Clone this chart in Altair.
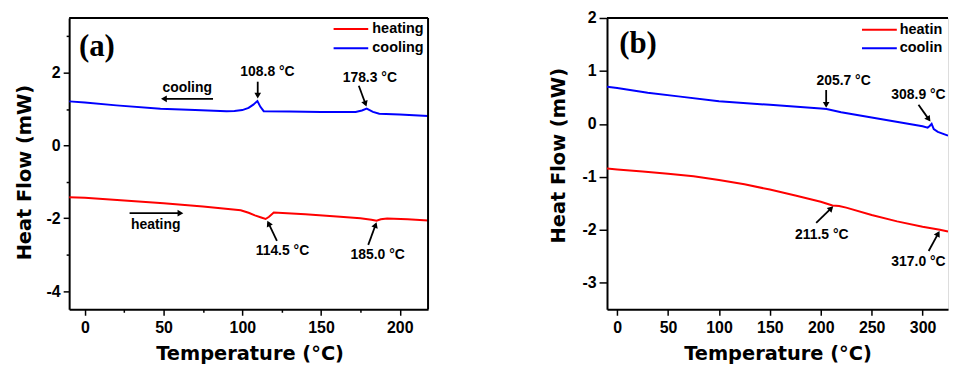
import math
import altair as alt
import pandas as pd

# ---------------- data: panel (a) ----------------
a_heat_T = [-10, 0, 25, 50, 75, 99, 104, 108, 112, 114.8, 117, 120, 140, 160, 175, 182, 185.3, 188, 192, 205, 218]
a_heat_v = [-1.42, -1.44, -1.51, -1.59, -1.68, -1.78, -1.85, -1.92, -1.98, -2.02, -1.96, -1.84, -1.89, -1.95, -2.00, -2.04, -2.07, -2.03, -2.01, -2.03, -2.06]
a_cool_T = [-10, 0, 20, 48, 70, 90, 95, 100, 104, 107, 109.6, 111.5, 113.6, 130, 150, 172, 176, 179, 183, 187, 200, 218]
a_cool_v = [1.21, 1.18, 1.10, 1.01, 0.97, 0.94, 0.945, 0.97, 1.03, 1.12, 1.22, 1.06, 0.94, 0.93, 0.92, 0.92, 0.96, 1.01, 0.92, 0.87, 0.85, 0.81]

a_note_text = ["108.8 °C", "178.3 °C", "114.5 °C", "185.0 °C", "cooling", "heating"]
a_note_T = [116, 181, 125.5, 186, 65, 45]
a_note_v = [2.02, 1.86, -2.90, -3.0, 1.58, -2.18]

a_arrow_x1 = [109.8, 174, 122, 180, 81.4, 28.4]
a_arrow_y1 = [1.75, 1.64, -2.62, -2.73, 1.28, -1.86]
a_arrow_x2 = [109.8, 178.8, 116, 185.2, 48.6, 62.3]
a_arrow_y2 = [1.30, 1.08, -2.08, -2.12, 1.28, -1.86]

# ---------------- data: panel (b) ----------------
b_heat_T = [-10, 0, 25, 50, 75, 100, 125, 150, 175, 200, 211.5, 218, 225, 250, 275, 300, 317, 325]
b_heat_v = [-0.84, -0.86, -0.90, -0.94, -0.99, -1.06, -1.14, -1.24, -1.35, -1.47, -1.54, -1.55, -1.58, -1.72, -1.84, -1.94, -2.00, -2.03]
b_cool_T = [-10, 0, 30, 60, 100, 150, 200, 205.7, 220, 250, 280, 300, 305, 307, 308.9, 311, 315, 325]
b_cool_v = [0.70, 0.68, 0.59, 0.52, 0.43, 0.36, 0.29, 0.28, 0.22, 0.12, 0.02, -0.045, -0.07, -0.04, 0.0, -0.10, -0.15, -0.22]

b_note_text = ["205.7 °C", "308.9 °C", "211.5 °C", "317.0 °C"]
b_note_T = [222.4, 296, 201, 296]
b_note_v = [0.81, 0.55, -2.09, -2.60]

b_arrow_x1 = [205.3, 296, 195.5, 306]
b_arrow_y1 = [0.64, 0.36, -1.87, -2.40]
b_arrow_x2 = [205.3, 307.5, 212, 316.5]
b_arrow_y2 = [0.31, 0.05, -1.56, -2.03]

series_names = ["heating", "cooling"]
series_colors = ["#ff0000", "#0000ff"]

FONT = "Liberation Sans"
TFONT = "DejaVu Sans"
H = 293


def make_panel(heat_T, heat_v, cool_T, cool_v, note_text, note_T, note_v,
               ax1, ay1, ax2, ay2, xdom, ydom, W, xticks, yticks, ylab_mod,
               tag, tag_T, tag_v, leg_T1, leg_T2, leg_Tt, leg_v, right_border,
               ytick_major, ytick_minor, title_x_offset, y_title_pad, y_title_y, leg_limit):
    sx = W / (xdom[1] - xdom[0])
    sy = H / (ydom[1] - ydom[0])

    curves = pd.concat([
        pd.DataFrame({"T": heat_T, "v": heat_v, "series": "heating"}),
        pd.DataFrame({"T": cool_T, "v": cool_v, "series": "cooling"}),
    ])

    x_axis = alt.Axis(
        values=xticks, title="Temperature (°C)",
        labelExpr="datum.value % 50 == 0 ? '' + datum.value : ''",
        tickSize={"condition": {"test": "datum.value % 50 == 0", "value": 6}, "value": 3},
        labelFontSize=16, labelFont=FONT, labelFontWeight="bold", labelColor="black",
        labelPadding=4, labelOverlap=False, labelFlush=False,
        titleFontSize=19.5, titleFont=TFONT, titleFontWeight="bold", titleColor="black",
        titlePadding=10, titleX=W / 2 + title_x_offset,
        domainColor="black", domainWidth=2, tickColor="black", tickWidth=1.5, grid=False,
    )
    y_axis = alt.Axis(
        values=yticks, title="Heat Flow (mW)",
        labelExpr=f"datum.value % {ylab_mod} == 0 ? '' + datum.value : ''",
        tickSize={"condition": {"test": f"datum.value % {ylab_mod} == 0", "value": ytick_major}, "value": ytick_minor},
        labelFontSize=16, labelFont=FONT, labelFontWeight="bold", labelColor="black",
        labelPadding=3, labelOverlap=False, labelFlush=False,
        titleFontSize=19.5, titleFont=TFONT, titleFontWeight="bold", titleColor="black",
        titlePadding=y_title_pad, titleY=y_title_y,
        domainColor="black", domainWidth=2, tickColor="black", tickWidth=1.5, grid=False,
    )
    xs = alt.Scale(domain=xdom, nice=False, zero=False)
    ys = alt.Scale(domain=ydom, nice=False, zero=False)
    color = alt.Color("series:N", scale=alt.Scale(domain=series_names, range=series_colors), legend=None)

    lines = alt.Chart(curves).mark_line(strokeWidth=2, clip=True).encode(
        x=alt.X("T:Q", scale=xs, axis=x_axis),
        y=alt.Y("v:Q", scale=ys, axis=y_axis),
        color=color,
        order=alt.Order("T:Q"),
    )

    notes = alt.Chart(pd.DataFrame({"T": note_T, "v": note_v, "t": note_text})).mark_text(
        font=FONT, fontWeight="bold", fontSize=14, color="black", align="center", baseline="middle", clip=True
    ).encode(x="T:Q", y="v:Q", text="t:N")

    # arrows
    rows = []
    L = 3.5
    for x1, y1, x2, y2 in zip(ax1, ay1, ax2, ay2):
        dxp = (x2 - x1) * sx
        dyp = -(y2 - y1) * sy
        n = math.hypot(dxp, dyp)
        ux, uy = dxp / n, dyp / n
        ang = math.degrees(math.atan2(dxp, -dyp)) % 360
        hx = x2 - ux * L / sx
        hy = y2 + uy * L / sy
        rows.append({"x1": x1, "y1": y1, "x2": x2 - ux * 2 / sx, "y2": y2 + uy * 2 / sy,
                     "hx": hx, "hy": hy, "ang": ang})
    adf = pd.DataFrame(rows)
    shafts = alt.Chart(adf).mark_rule(color="black", strokeWidth=1.8).encode(
        x="x1:Q", y="y1:Q", x2="x2:Q", y2="y2:Q")
    heads = alt.Chart(adf).mark_point(shape="triangle", filled=True, size=45, color="black",
                                      opacity=1, strokeWidth=0).encode(
        x="hx:Q", y="hy:Q", angle=alt.Angle("ang:Q", scale=None))

    tagc = alt.Chart(pd.DataFrame({"T": [tag_T], "v": [tag_v], "t": [tag]})).mark_text(
        font="Liberation Serif", fontWeight="bold", fontSize=31, color="black",
        align="left", baseline="middle").encode(x="T:Q", y="v:Q", text="t:N")

    leg = pd.DataFrame({"x1": [leg_T1, leg_T1], "x2": [leg_T2, leg_T2], "xt": [leg_Tt, leg_Tt],
                        "v": leg_v, "series": series_names})
    leg_lines = alt.Chart(leg).mark_rule(strokeWidth=2, clip=True).encode(
        x="x1:Q", x2="x2:Q", y="v:Q", color=color)
    text_kw = dict(font=FONT, fontWeight="bold", fontSize=14.5, color="black",
                   align="left", baseline="middle", clip=True)
    if leg_limit:
        text_kw.update(limit=leg_limit, ellipsis="\u200b")
    leg_text = alt.Chart(leg).mark_text(**text_kw).encode(x="xt:Q", y="v:Q", text="series:N")

    one = alt.Data(values=[{"k": 1}])
    top = alt.Chart(one).mark_rule(color="black", strokeWidth=2).encode(
        x=alt.value(0), x2=alt.value(W), y=alt.value(0))
    layers = [lines, shafts, heads, notes, tagc, leg_lines, leg_text, top]
    if right_border:
        layers.append(alt.Chart(one).mark_rule(color="black", strokeWidth=2).encode(
            x=alt.value(W), y=alt.value(0), y2=alt.value(H)))
    return alt.layer(*layers).properties(width=W, height=H)


WB = 343
XB = [-10, 325]
leg_b_x = 277.6
pa = make_panel(a_heat_T, a_heat_v, a_cool_T, a_cool_v, a_note_text, a_note_T, a_note_v,
                a_arrow_x1, a_arrow_y1, a_arrow_x2, a_arrow_y2,
                [-10, 218], [-4.5, 3.5], 361, list(range(0, 201, 25)), list(range(-4, 4)), 2,
                "(a)", -3.8, 2.70, 158, 180, 182.6, [3.20, 2.67], True, 6, 3, 1, 12, 155, 0)
pb = make_panel(b_heat_T, b_heat_v, b_cool_T, b_cool_v, b_note_text, b_note_T, b_note_v,
                b_arrow_x1, b_arrow_y1, b_arrow_x2, b_arrow_y2,
                XB, [-3.5, 2], WB, list(range(0, 326, 25)), [-3 + 0.5 * i for i in range(11)], 1,
                "(b)", 2, 1.51, 240.5, 274.7, leg_b_x, [1.78, 1.43], False, 8, 4, 0, 14, 138,
                WB - (leg_b_x - XB[0]) * WB / (XB[1] - XB[0]) - 1)

chart = alt.hconcat(pa, pb, spacing=118).properties(
    padding={"left": 5.5, "top": 0, "right": 0, "bottom": 0}
).configure_view(stroke=None).configure(background="white")

chart.save("out.html", embed_options={"renderer": "svg", "actions": False})
